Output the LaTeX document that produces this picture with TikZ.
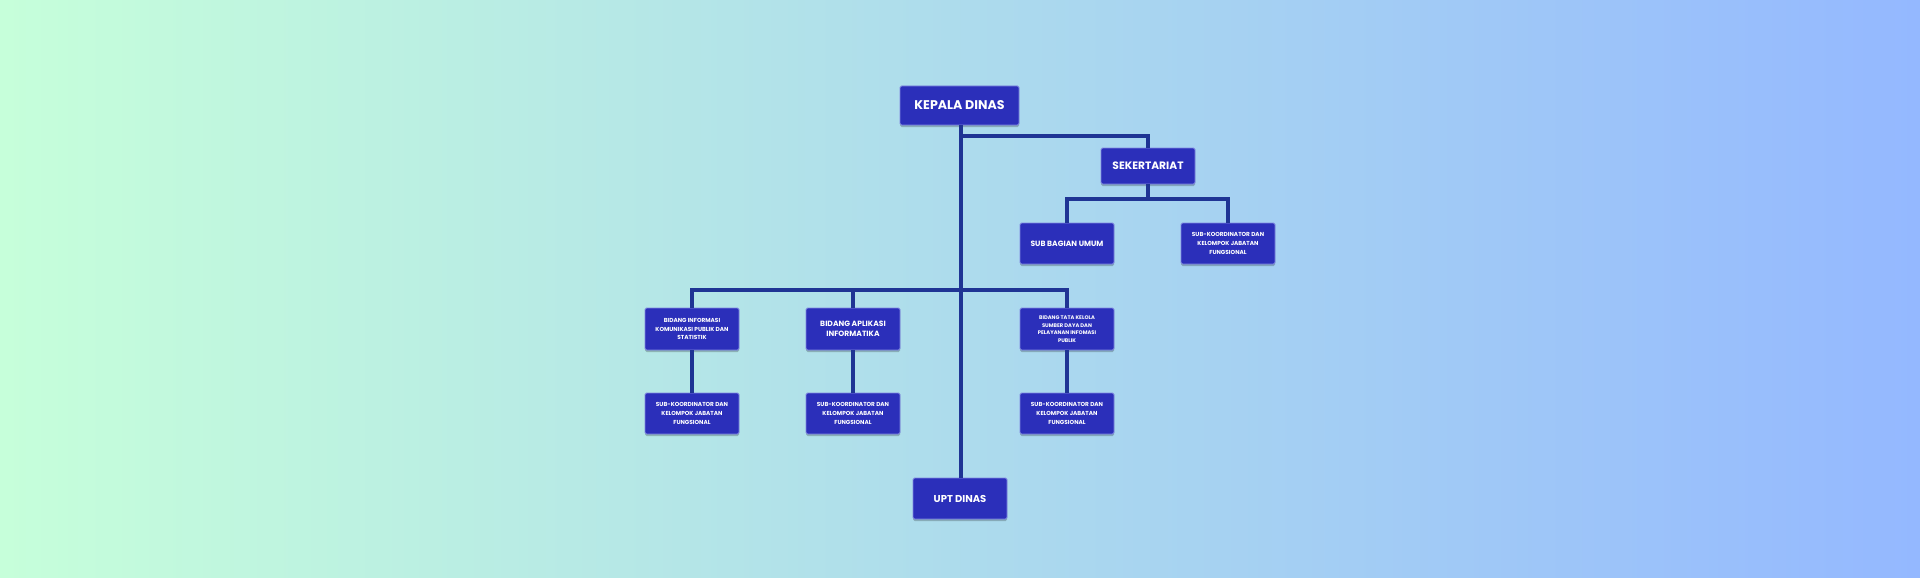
\documentclass[tikz,border=0pt]{standalone}
\usepackage{fontspec}
\setmainfont{Poppins}
\usetikzlibrary{shadows}
\definecolor{bgL}{HTML}{C6FFDA}
\definecolor{bgR}{HTML}{94B8FF}
\definecolor{boxc}{HTML}{2B2FBA}
\definecolor{boxedge}{HTML}{7F86E0}
\definecolor{linec}{HTML}{1F3494}
\tikzset{
  orgbox/.style={fill=boxc, draw=boxedge, line width=0.8pt, rounded corners=1.5pt,
    text=white, align=center, inner sep=1pt,
    general shadow={shadow yshift=-2pt, fill=black, opacity=0.22}},
  bigbox/.style={orgbox, font=\bfseries\fontsize{12.6}{14}\selectfont},
  midbox/.style={orgbox, font=\bfseries\fontsize{7.6}{10}\selectfont},
  smallbox/.style={orgbox, font=\bfseries\fontsize{5.8}{8.7}\selectfont},
  tinybox/.style={orgbox, font=\bfseries\fontsize{5.2}{7.6}\selectfont},
  conn/.style={draw=linec, line width=4pt, line join=miter}
}
\begin{document}
\begin{tikzpicture}[x=1pt,y=-1pt]
\useasboundingbox (0,0) rectangle (1920,578);
\shade[left color=bgL, right color=bgR] (0,0) rectangle (1920,578);

\coordinate (j1) at (961,136);
\coordinate (h2) at (1148,199);
\coordinate (h3) at (961,290);

\node[bigbox, minimum width=119pt, minimum height=39pt] (kd) at (959.5,105.5) {KEPALA DINAS};
\node[bigbox, font=\bfseries\fontsize{10.7}{13}\selectfont, minimum width=94pt, minimum height=36pt] (sek) at (1148,166) {SEKERTARIAT};
\node[midbox, minimum width=94pt, minimum height=41pt] (sbu) at (1067,243.5) {SUB BAGIAN UMUM};
\node[smallbox, minimum width=94pt, minimum height=41pt] (sk0) at (1228,243.5) {SUB-KOORDINATOR DAN\\KELOMPOK JABATAN\\FUNGSIONAL};

\node[smallbox, minimum width=94pt, minimum height=42pt] (b1) at (692,329) {BIDANG INFORMASI\\KOMUNIKASI PUBLIK DAN\\STATISTIK};
\node[midbox, minimum width=94pt, minimum height=42pt] (b2) at (853,329) {BIDANG APLIKASI\\INFORMATIKA};
\node[tinybox, minimum width=94pt, minimum height=42pt] (b3) at (1067,329) {BIDANG TATA KELOLA\\SUMBER DAYA DAN\\PELAYANAN INFOMASI\\PUBLIK};

\node[smallbox, minimum width=94pt, minimum height=41pt] (s1) at (692,413.5) {SUB-KOORDINATOR DAN\\KELOMPOK JABATAN\\FUNGSIONAL};
\node[smallbox, minimum width=94pt, minimum height=41pt] (s2) at (853,413.5) {SUB-KOORDINATOR DAN\\KELOMPOK JABATAN\\FUNGSIONAL};
\node[smallbox, minimum width=94pt, minimum height=41pt] (s3) at (1067,413.5) {SUB-KOORDINATOR DAN\\KELOMPOK JABATAN\\FUNGSIONAL};

\node[midbox, font=\bfseries\fontsize{10}{12}\selectfont, minimum width=94pt, minimum height=41pt] (upt) at (960,498.5) {UPT DINAS};

% connectors
\draw[conn] (kd.south -| j1) -- (upt.north -| j1);
\draw[conn] (j1) -| (sek.north);
\draw[conn] (sek.south) -- (h2);
\draw[conn] (sbu.north) |- (h2) -| (sk0.north);
\draw[conn] (b1.north) |- (h3) -| (b3.north);
\draw[conn] (b2.north) -- (b2.north |- h3);
\draw[conn] (b1.south) -- (s1.north);
\draw[conn] (b2.south) -- (s2.north);
\draw[conn] (b3.south) -- (s3.north);
\end{tikzpicture}
\end{document}
